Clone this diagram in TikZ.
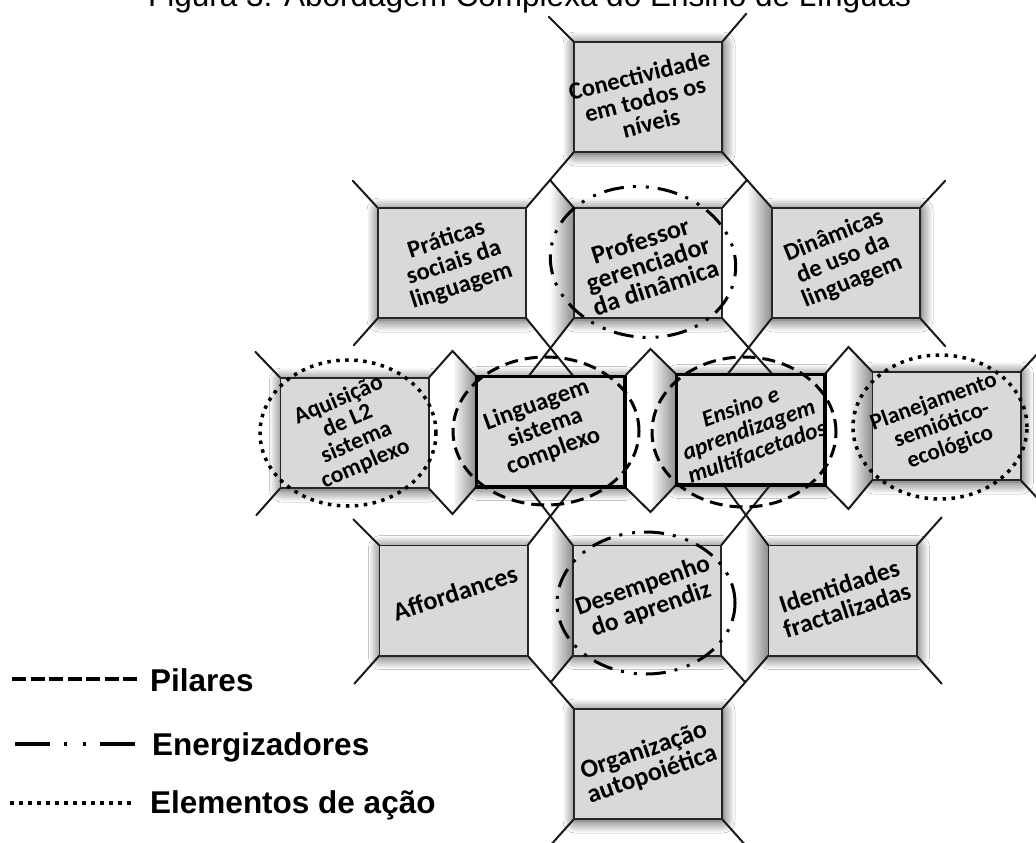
\documentclass[tikz,border=0pt]{standalone}
\usepackage{fontspec}
\setmainfont{Carlito}
\newfontfamily\arialf{Liberation Sans}
\usetikzlibrary{calc,shadows.blur}

\tikzset{
  box/.style={rectangle, draw=none, fill=black!15, minimum width=148pt, minimum height=110pt, inner sep=0pt,
    blur shadow={shadow xshift=1pt, shadow yshift=-2pt, shadow blur radius=12pt, shadow blur steps=12, shadow opacity=80}},
  edge/.style={line width=1.6pt, draw=black!85},
  thickedge/.style={line width=3.6pt, draw=black},
  txt/.style={font=\bfseries\fontsize{24.5}{24.5}\selectfont, align=center, inner sep=0pt},
  bigtxt/.style={font=\bfseries\fontsize{26}{24.5}\selectfont, align=center, inner sep=0pt},
  lnk/.style={line width=2pt, draw=black!90, line cap=round},
  lens/.style={left color=white, right color=black!45, middle color=white},
  pil/.style={line width=3pt, dash pattern=on 13pt off 7pt},
  ene/.style={line width=3pt, dash pattern=on 20pt off 9pt on 3pt off 10pt on 3pt off 9pt},
  elm/.style={line width=3.5pt, dash pattern=on 3.5pt off 5.5pt},
  legtxt/.style={font=\arialf\bfseries\fontsize{31.5}{33}\selectfont, anchor=base west, inner sep=0pt}
}

\begin{document}
\begin{tikzpicture}[x=1pt,y=-1pt]
\useasboundingbox (0,0) rectangle (1036,843);
\fill[white] (0,0) rectangle (1036,843);

% title
\node[font=\arialf\fontsize{31.5}{33}\selectfont, anchor=base west, inner sep=0pt] (title) at (148,7) {Figura 3: Abordagem Complexa do Ensino de Línguas};

% boxes
\node[box] (C1) at (648,97) {};
\node[box] (P)  at (452,263) {};
\node[box] (PR) at (648,263) {};
\node[box] (D)  at (846,263) {};
\node[box] (AQ) at (354.5,433) {};
\node[box] (LG) at (550.5,431.5) {};
\node[box] (EN) at (750.5,429.5) {};
\node[box, minimum height=108pt] (PL) at (946.5,426) {};
\node[box] (AF) at (453.5,600.5) {};
\node[box] (DE) at (647,600.5) {};
\node[box] (ID) at (842.5,600.5) {};
\node[box] (OR) at (648,764) {};

% crossing points
\coordinate (xa) at ($(C1.south west)!0.5!(P.north east)$);
\coordinate (xb) at ($(C1.south east)!0.5!(D.north west)$);
\coordinate (xc) at (550.5,348.2);
\coordinate (xd) at (748.6,347.7);
\coordinate (h1t) at (452.5,351);
\coordinate (h1b) at (452.5,514);
\coordinate (h2t) at (650.5,349);
\coordinate (h2b) at (650.5,512);
\coordinate (h3t) at (848.5,347);
\coordinate (h3b) at (848.5,509);
\coordinate (xe) at (550.4,516);
\coordinate (xf) at (745.9,514.8);
\coordinate (xg) at ($(AF.south east)!0.5!(OR.north west)$);
\coordinate (xh) at ($(ID.south west)!0.5!(OR.north east)$);

% lenses
\shade[lens] (P.north east) -- (xa) -- (PR.north west) -- (PR.south west) -- (xc) -- (P.south east) -- cycle;
\shade[lens] (PR.north east) -- (xb) -- (D.north west) -- (D.south west) -- (xd) -- (PR.south east) -- cycle;
\shade[lens] (AQ.north east) -- (h1t) -- (LG.north west) -- (LG.south west) -- (h1b) -- (AQ.south east) -- cycle;
\shade[lens] (LG.north east) -- (h2t) -- (EN.north west) -- (EN.south west) -- (h2b) -- (LG.south east) -- cycle;
\shade[lens] (EN.north east) -- (h3t) -- (PL.north west) -- (PL.south west) -- (h3b) -- (EN.south east) -- cycle;
\shade[lens] (AF.north east) -- (xe) -- (DE.north west) -- (DE.south west) -- (xg) -- (AF.south east) -- cycle;
\shade[lens] (DE.north east) -- (xf) -- (ID.north west) -- (ID.south west) -- (xh) -- (DE.south east) -- cycle;

% connectors - row 1
\draw[lnk] (C1.north west) -- ++(-25,-25);
\draw[lnk] (C1.north east) -- ++(24,-28);
\draw[lnk] (C1.south west) -- (P.north east);
\draw[lnk] (C1.south east) -- (D.north west);
% row 2
\draw[lnk] (PR.north west) -- (xa);
\draw[lnk] (PR.north east) -- (xb);
\draw[lnk] (P.north west) -- ++(-25,-27);
\draw[lnk] (D.north east) -- ++(25,-27);
\draw[lnk] (P.south west) -- ++(-24,27);
\draw[lnk] (D.south east) -- ++(25,28);
\draw[lnk] (P.south east) -- ($(LG.north)+(23,0)$);
\draw[lnk] (PR.south west) -- ($(LG.north)+(-22,0)$);
\draw[lnk] (PR.south east) -- ($(EN.north)+(22,0)$);
\draw[lnk] (D.south west) -- ($(EN.north)+(-23,0)$);
% row 3
\draw[lnk] (AQ.north west) -- ++(-25,-26);
\draw[lnk] (AQ.south west) -- ++(-24,27);
\draw[lnk] (AQ.north east) -- (h1t) -- (LG.north west);
\draw[lnk] (AQ.south east) -- (h1b) -- (LG.south west);
\draw[lnk] (LG.north east) -- (h2t) -- (EN.north west);
\draw[lnk] (LG.south east) -- (h2b) -- (EN.south west);
\draw[lnk] (EN.north east) -- (h3t) -- (PL.north west);
\draw[lnk] (EN.south east) -- (h3b) -- (PL.south west);
\draw[lnk] (PL.north east) -- ++(25,-27);
\draw[lnk] (PL.south east) -- ++(25,27);
% row 4
\draw[lnk] (AF.north west) -- ++(-26,-26);
\draw[lnk] (AF.south west) -- ++(-25,28);
\draw[lnk] (AF.north east) -- ($(LG.south)+(23,0)$);
\draw[lnk] (DE.north west) -- ($(LG.south)+(-23,0)$);
\draw[lnk] (DE.north east) -- ($(EN.south)+(20,0)$);
\draw[lnk] (ID.north west) -- ($(EN.south)+(-27,0)$);
\draw[lnk] (ID.north east) -- ++(25,-28);
\draw[lnk] (ID.south east) -- ++(25,28);
\draw[lnk] (AF.south east) -- (OR.north west);
\draw[lnk] (ID.south west) -- (OR.north east);
\draw[lnk] (DE.south west) -- (xg);
\draw[lnk] (DE.south east) -- (xh);
% row 5
\draw[lnk] (OR.south west) -- ++(-25,28);
\draw[lnk] (OR.south east) -- ++(25,28);

% box borders
\foreach \n in {C1,P,PR,D,AQ,PL,AF,DE,ID,OR}
  \draw[edge] (\n.north west) rectangle (\n.south east);
\foreach \n in {LG,EN}
  \draw[thickedge] (\n.north west) rectangle (\n.south east);

% ellipses
\draw[ene, rotate around={-8:(643,262)}] (643,262) ellipse [x radius=93pt, y radius=75pt];
\draw[ene] (646,603) ellipse [x radius=89pt, y radius=71pt];
\draw[pil] (546,431) ellipse [x radius=93pt, y radius=74pt];
\draw[pil] (744,432) ellipse [x radius=92pt, y radius=75pt];
\draw[elm] (348,433) ellipse [x radius=88pt, y radius=73pt];
\draw[elm] (940,427) ellipse [x radius=87pt, y radius=72pt];

% texts
\node[txt, rotate=14] (C1t) at (645,99) {Conectividade\\em todos os\\níveis};
\node[txt, rotate=18] (Pt) at (454,263) {Práticas\\sociais da\\linguagem};
\node[bigtxt, rotate=18] (PRt) at (648,264) {Professor\\gerenciador\\da dinâmica};
\node[txt, rotate=22] (Dt) at (843,259) {Dinâmicas\\de uso da\\linguagem};
\node[txt, rotate=23, font=\bfseries\fontsize{23.5}{23}\selectfont] (AQt) at (352,432) {Aquisição\\de L2\\sistema\\complexo};
\node[txt, rotate=20] (LGt) at (545,428) {Linguagem\\sistema\\complexo};
\node[txt, rotate=20, font=\bfseries\itshape\fontsize{23.5}{24}\selectfont] (ENt) at (749,430) {Ensino e\\aprendizagem\\multifacetados};
\node[txt, rotate=20, font=\bfseries\fontsize{23}{24}\selectfont] (PLt) at (942,425) {Planejamento\\semiótico-\\ecológico};
\node[txt, rotate=18, font=\bfseries\fontsize{26}{26}\selectfont] (AFt) at (455,593) {Affordances};
\node[txt, rotate=19, font=\bfseries\fontsize{25.5}{25}\selectfont] (DEt) at (647,598) {Desempenho\\do aprendiz};
\node[txt, rotate=18, font=\bfseries\fontsize{25.5}{25}\selectfont] (IDt) at (843,598) {Identidades\\fractalizadas};
\node[txt, rotate=19, font=\bfseries\fontsize{26}{25}\selectfont] (ORt) at (648,763) {Organização\\autopoiética};

% legend
\coordinate (l1a) at (12,679); \coordinate (l1b) at (137,679);
\draw[line width=4pt, dash pattern=on 14pt off 4.5pt] (l1a) -- (l1b);
\node[legtxt] (lpil) at (150,691) {Pilares};
\coordinate (l2a) at (15,744); \coordinate (l2b) at (135,744);
\draw[line width=4pt, dash pattern=on 35pt off 14pt on 3pt off 16pt on 3pt off 14pt on 40pt off 50pt] (l2a) -- (l2b);
\node[legtxt] (lene) at (152,755) {Energizadores};
\coordinate (l3a) at (10,803); \coordinate (l3b) at (134,803);
\draw[line width=3.5pt, dash pattern=on 3.5pt off 5.5pt] (l3a) -- (l3b);
\node[legtxt] (lelm) at (150,813) {Elementos de ação};
\end{tikzpicture}
\end{document}
